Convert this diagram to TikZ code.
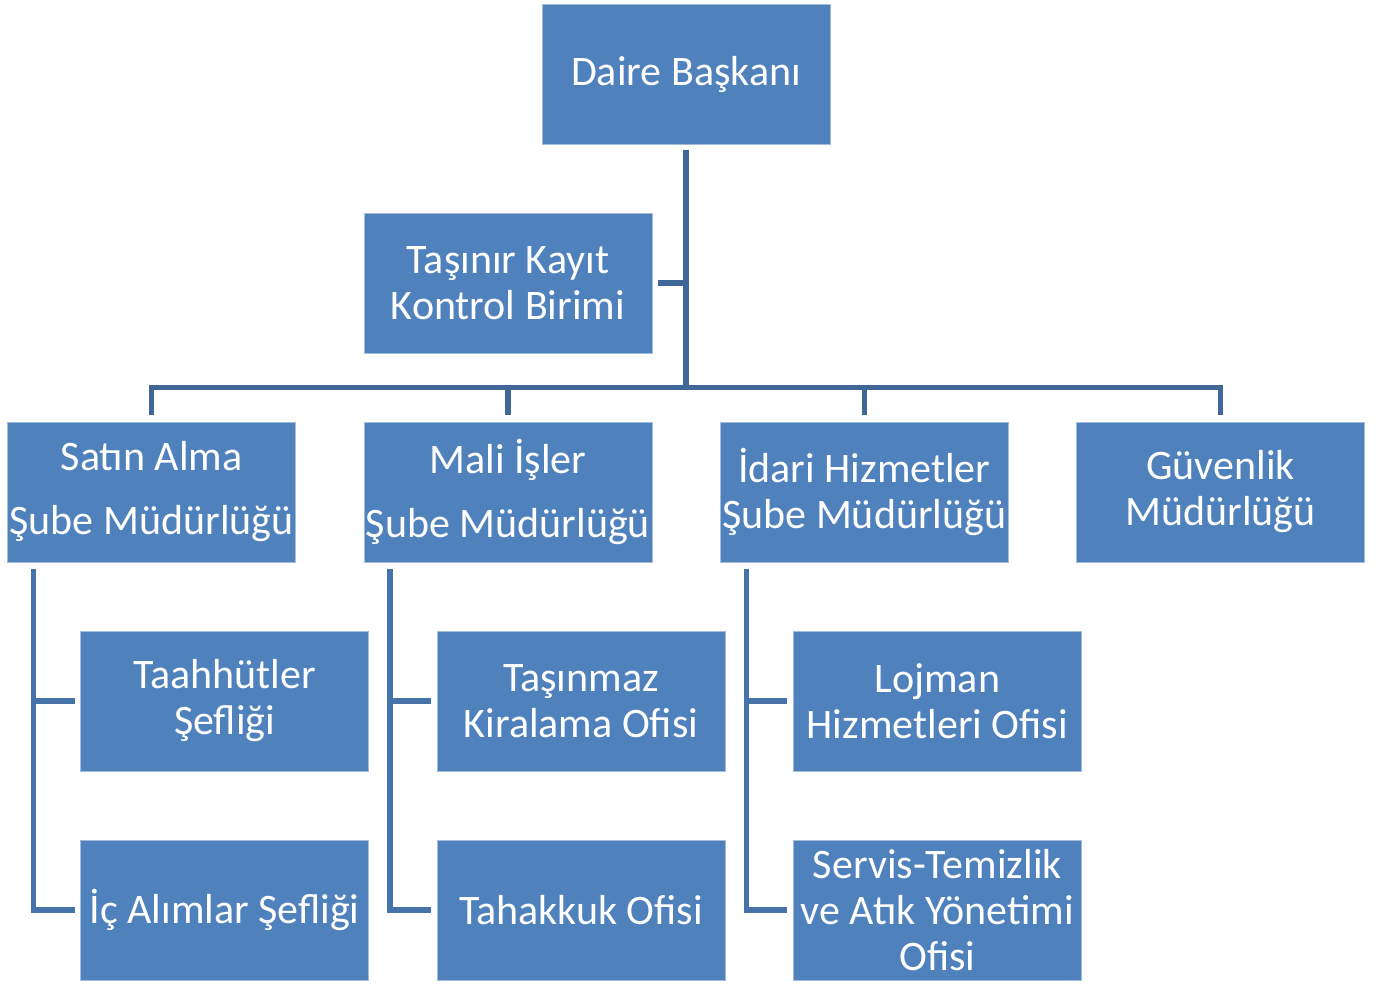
\documentclass[tikz,border=0pt]{standalone}
\usepackage{fontspec}
\setmainfont{Carlito}
\usepackage{xcolor}
\usetikzlibrary{positioning}

\definecolor{boxblue}{HTML}{4F81BD}
\definecolor{boxedge}{HTML}{A3BBDB}
\definecolor{mainline}{HTML}{3F6797}
\definecolor{subline}{HTML}{4673AA}

\begin{document}
\begin{tikzpicture}[
  node distance=51.75pt and 51.25pt,
  unit/.style={rectangle, fill=boxblue, draw=boxedge, line width=0.6pt, inner sep=0pt, outer sep=0pt, align=center, text=white, minimum width=216pt, minimum height=105pt, font=\fontsize{31.5}{34.5}\selectfont},
  link/.style={draw=mainline, line width=4.2pt},
  sublink/.style={draw=subline, line width=4.2pt}
]
  \useasboundingbox (-514.5pt,55.5pt) rectangle (523.5pt,-683.25pt);

  % Main units
  \node[unit] (daire) {Daire Başkanı};
  \node[unit, below left=51.75pt and -82.5pt of daire] (tasinir) {Taşınır Kayıt\\Kontrol Birimi};
  \node[unit, below=of tasinir] (mali) {Mali İşler\\[13.5pt]Şube Müdürlüğü};
  \node[unit, left=of mali] (satin) {Satın Alma\\[13.5pt]Şube Müdürlüğü};
  \node[unit, right=of mali] (idari) {İdari Hizmetler\\Şube Müdürlüğü};
  \node[unit, right=of idari] (guvenlik) {Güvenlik\\Müdürlüğü};

  % Sub units
  \node[unit, below right=51.75pt and -161.25pt of satin] (taahhut) {Taahhütler\\Şefliği};
  \node[unit, below=of taahhut] (alim) {İç Alımlar Şefliği};
  \node[unit, below right=51.75pt and -161.25pt of mali] (tasinmaz) {Taşınmaz\\Kiralama Ofisi};
  \node[unit, below=of tasinmaz] (tahakkuk) {Tahakkuk Ofisi};
  \node[unit, below right=51.75pt and -161.25pt of idari] (lojman) {Lojman\\Hizmetleri Ofisi};
  \node[unit, below=of lojman] (servis) {Servis-Temizlik\\ve Atık Yönetimi\\Ofisi};

  % Connections
  \path (tasinir.south) -- (mali.north) coordinate[midway] (bus);
  \draw[link] ([yshift=-4.5pt]daire.south) -- (daire.south |- bus);
  \draw[link] ([xshift=4.5pt]tasinir.east) -- (tasinir.east -| daire.south);
  \draw[link] ([yshift=5.25pt]satin.north) -- (satin.north |- bus) -- (guvenlik.north |- bus) -- ([yshift=5.25pt]guvenlik.north);
  \draw[link] ([yshift=5.25pt]mali.north) -- (mali.north |- bus);
  \draw[link] ([yshift=5.25pt]idari.north) -- (idari.north |- bus);

  \foreach \head/\first/\second in {satin/taahhut/alim, mali/tasinmaz/tahakkuk, idari/lojman/servis} {
    \draw[sublink] ([xshift=19.5pt,yshift=-5.25pt]\head.south west) |- ([xshift=-4.5pt]\second.west);
    \draw[sublink] ([xshift=19.5pt]\head.south west |- \first.west) -- ([xshift=-4.5pt]\first.west);
  }
\end{tikzpicture}
\end{document}
